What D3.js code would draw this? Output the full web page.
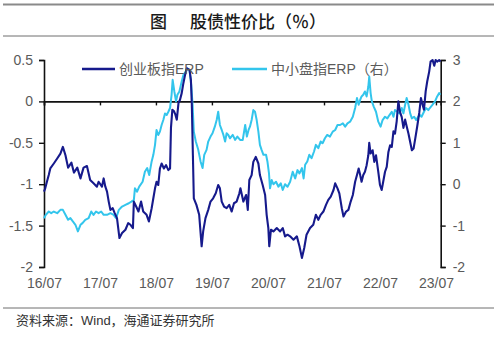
<!DOCTYPE html>
<html>
<head>
<meta charset="utf-8">
<script src="https://cdn.jsdelivr.net/npm/d3@7"></script>
<style>
  html, body { margin: 0; padding: 0; background: #fff; }
  svg { display: block; }
  text { font-family: "Liberation Sans", Arial, "Noto Sans CJK SC", sans-serif; }
</style>
</head>
<body>
<svg id="chart" width="500" height="337"></svg>
<script>
// 创业板指 ERP (left axis, %)
const cybDates = [
  "2016-07-01","2016-07-09","2016-07-20","2016-08-01","2016-08-11","2016-09-03","2016-09-25","2016-10-16","2016-11-01","2016-11-18","2016-12-05","2016-12-27",
  "2017-01-12","2017-02-03","2017-02-24","2017-03-16","2017-04-07","2017-04-28","2017-05-20","2017-06-11","2017-06-22","2017-07-14","2017-07-25","2017-08-05","2017-08-16","2017-08-27","2017-09-07","2017-09-22","2017-10-05","2017-10-20","2017-11-05","2017-11-22","2017-12-14",
  "2018-01-01","2018-01-16","2018-02-01","2018-02-07","2018-02-22","2018-03-09","2018-03-26","2018-04-09","2018-05-01","2018-05-16","2018-06-03","2018-06-14","2018-06-25","2018-07-05","2018-07-16","2018-07-27","2018-08-07","2018-08-22","2018-09-05","2018-09-20","2018-10-01","2018-10-07","2018-10-16","2018-10-27","2018-11-05","2018-11-14","2018-11-25","2018-12-05","2018-12-16","2018-12-27",
  "2019-01-07","2019-01-18","2019-02-05","2019-02-14","2019-02-20","2019-02-27","2019-03-05","2019-03-22","2019-04-09","2019-04-25","2019-05-05","2019-05-20","2019-06-07","2019-06-22","2019-07-09","2019-07-26","2019-08-11","2019-08-22","2019-09-03","2019-09-18","2019-10-05","2019-10-22","2019-11-07","2019-11-22","2019-12-09","2019-12-27",
  "2020-01-03","2020-01-22","2020-02-09","2020-02-20","2020-03-01","2020-03-16","2020-03-27","2020-04-12","2020-04-29","2020-05-09","2020-05-27","2020-06-12","2020-06-22","2020-07-03","2020-07-09","2020-07-20","2020-08-05","2020-08-27","2020-09-18","2020-10-05","2020-10-20","2020-11-05","2020-11-22","2020-12-14",
  "2021-01-05","2021-01-22","2021-02-07","2021-02-22","2021-03-09","2021-04-01","2021-04-22","2021-05-09","2021-05-25","2021-06-09","2021-06-27","2021-07-14","2021-07-29","2021-08-14","2021-09-01","2021-09-12","2021-09-27","2021-10-09","2021-10-25","2021-11-05","2021-11-22","2021-12-07","2021-12-22",
  "2022-01-05","2022-01-20","2022-02-01","2022-02-12","2022-02-22","2022-03-03","2022-03-14","2022-03-25","2022-04-05","2022-04-16","2022-04-22","2022-05-01","2022-05-14","2022-05-25","2022-06-05","2022-06-20","2022-07-01","2022-07-12","2022-07-22","2022-08-03","2022-08-14","2022-08-25","2022-09-05","2022-09-16","2022-09-27","2022-10-07","2022-10-18","2022-10-29","2022-11-09","2022-11-20","2022-12-01","2022-12-12","2022-12-22",
  "2023-01-03","2023-01-14","2023-01-25","2023-02-05","2023-02-16","2023-03-01","2023-03-14","2023-03-25","2023-04-05","2023-04-14","2023-04-25","2023-05-05","2023-05-18","2023-05-27","2023-06-09","2023-06-20","2023-06-29","2023-07-09","2023-07-22","2023-07-30"
];
const cybValues = [
  -1.09,-1.05,-0.97,-0.89,-0.81,-0.75,-0.69,-0.63,-0.55,-0.65,-0.80,-0.74,
  -0.86,-0.80,-0.93,-0.80,-0.78,-0.95,-0.99,-1.03,-0.97,-1.03,-0.93,-1.03,-1.09,-1.21,-1.31,-1.29,-1.35,-1.41,-1.65,-1.59,-1.55,
  -1.47,-1.49,-1.53,-1.21,-1.27,-1.33,-1.21,-1.33,-1.37,-1.45,-1.29,-1.17,-1.05,-0.97,-1.01,-0.81,-0.75,-0.81,-0.77,-0.83,-0.81,-0.32,-0.10,-0.12,-0.16,-0.22,-0.02,0.02,0.10,0.22,
  0.32,0.40,0.38,0.26,-0.04,-0.65,-1.17,-1.25,-1.37,-1.75,-1.57,-1.41,-1.31,-1.21,-1.17,-1.11,-1.01,-1.05,-1.21,-1.27,-1.29,-1.25,-1.33,-1.23,-1.21,-1.11,
  -1.05,-1.21,-1.13,-1.31,-0.95,-0.89,-0.73,-0.67,-0.75,-0.89,-1.01,-1.13,-1.37,-1.53,-1.75,-1.55,-1.57,-1.53,-1.57,-1.53,-1.63,-1.61,-1.63,-1.67,
  -1.63,-1.75,-1.89,-1.77,-1.61,-1.53,-1.49,-1.37,-1.43,-1.37,-1.33,-1.25,-1.19,-1.15,-1.07,-0.99,-1.05,-1.11,-1.29,-1.39,-1.33,-1.31,-1.21,
  -1.13,-0.97,-0.89,-0.81,-0.89,-0.97,-0.89,-0.85,-0.77,-0.65,-0.50,-0.63,-0.59,-0.73,-0.65,-0.85,-1.01,-1.07,-0.97,-0.85,-0.79,-0.61,-0.53,-0.55,-0.36,-0.39,-0.24,0.00,-0.13,-0.19,-0.32,-0.22,-0.30,
  -0.39,-0.49,-0.59,-0.57,-0.45,-0.30,-0.14,0.04,-0.04,-0.10,0.12,0.24,0.36,0.48,0.50,0.43,0.50,0.48,0.50,0.48
];

// 中小盘指 ERP (right axis, %)
const smeDates = [
  "2016-07-01","2016-07-13","2016-08-01","2016-08-17","2016-09-03","2016-09-25","2016-10-16","2016-11-01","2016-11-18","2016-12-05","2016-12-20",
  "2017-01-05","2017-01-22","2017-02-07","2017-02-24","2017-03-09","2017-03-27","2017-04-18","2017-05-05","2017-05-20","2017-06-05","2017-06-22","2017-07-09","2017-07-25","2017-08-16","2017-09-07","2017-09-28","2017-10-14","2017-11-01","2017-11-22","2017-12-14",
  "2018-01-05","2018-01-22","2018-02-07","2018-02-14","2018-02-28","2018-03-14","2018-04-05","2018-04-20","2018-05-05","2018-05-18","2018-06-03","2018-06-14","2018-06-25","2018-07-05","2018-07-16","2018-07-27","2018-08-07","2018-08-18","2018-08-29","2018-09-09","2018-09-20","2018-10-01","2018-10-11","2018-10-18","2018-10-29","2018-11-09","2018-11-18","2018-12-01","2018-12-16","2018-12-27",
  "2019-01-12","2019-01-22","2019-02-05","2019-02-16","2019-02-25","2019-03-05","2019-03-18","2019-04-03","2019-04-18","2019-05-01","2019-05-12","2019-05-27","2019-06-07","2019-06-22","2019-07-05","2019-07-20","2019-08-01","2019-08-11","2019-08-22","2019-09-03","2019-09-14","2019-09-25","2019-10-05","2019-10-16","2019-10-27","2019-11-14","2019-11-29","2019-12-14",
  "2020-01-01","2020-01-18","2020-02-03","2020-02-14","2020-02-25","2020-03-05","2020-03-16","2020-03-27","2020-04-07","2020-04-18","2020-04-29","2020-05-09","2020-05-20","2020-06-01","2020-06-18","2020-06-27","2020-07-07","2020-07-14","2020-07-25","2020-08-05","2020-08-22","2020-09-07","2020-09-22","2020-10-05","2020-10-20","2020-11-05","2020-11-22","2020-12-09","2020-12-25",
  "2021-01-09","2021-01-22","2021-02-07","2021-02-18","2021-02-28","2021-03-14","2021-03-27","2021-04-11","2021-04-27","2021-05-09","2021-05-25","2021-06-09","2021-06-22","2021-07-07","2021-07-22","2021-08-09","2021-08-27","2021-09-12","2021-09-27","2021-10-14","2021-11-01","2021-11-16","2021-12-01","2021-12-18",
  "2022-01-05","2022-01-20","2022-02-01","2022-02-12","2022-02-22","2022-03-03","2022-03-14","2022-03-25","2022-04-05","2022-04-16","2022-04-22","2022-05-01","2022-05-09","2022-05-22","2022-06-05","2022-06-20","2022-07-05","2022-07-18","2022-08-03","2022-08-18","2022-09-01","2022-09-16","2022-09-27","2022-10-07","2022-10-22","2022-11-05","2022-11-20","2022-12-01","2022-12-12","2022-12-22",
  "2023-01-03","2023-01-14","2023-01-25","2023-02-09","2023-02-22","2023-03-07","2023-03-18","2023-03-29","2023-04-14","2023-04-27","2023-05-12","2023-05-22","2023-06-09","2023-06-25","2023-07-09","2023-07-22","2023-07-30"
];
const smeValues = [
  -0.82,-0.74,-0.66,-0.70,-0.66,-0.70,-0.62,-0.62,-0.74,-0.86,-0.82,
  -0.90,-0.98,-1.14,-0.98,-0.94,-0.86,-0.82,-0.66,-0.74,-0.66,-0.70,-0.66,-0.74,-0.74,-0.70,-0.74,-0.82,-0.62,-0.54,-0.50,
  -0.46,-0.42,-0.38,-0.10,-0.18,-0.06,0.06,0.30,0.39,0.22,0.55,0.71,0.95,1.31,1.19,1.27,1.43,1.55,1.71,1.67,1.75,1.84,2.16,2.52,2.24,2.00,2.16,2.24,2.48,2.64,
  2.72,2.80,2.76,2.40,1.92,1.27,1.03,0.83,0.55,0.39,0.71,0.83,1.03,1.15,1.23,1.39,1.55,1.75,1.43,1.31,1.19,1.03,1.23,1.19,1.11,1.19,1.07,1.15,
  1.07,1.07,1.43,1.15,1.31,1.39,1.55,1.79,1.75,1.55,1.27,0.95,0.83,0.71,0.71,0.55,0.27,-0.10,0.10,0.00,0.06,-0.06,0.02,-0.14,0.00,-0.06,0.06,0.30,0.14,
  0.34,0.26,0.39,0.14,0.47,0.55,0.71,0.63,0.79,0.95,0.87,1.03,0.99,1.11,1.19,1.15,1.27,1.31,1.43,1.43,1.47,1.39,1.47,1.51,
  1.63,1.84,2.08,1.92,2.04,2.12,2.16,2.24,2.12,2.36,2.60,2.20,2.00,1.87,1.75,1.51,1.39,1.55,1.63,1.59,1.67,1.75,1.63,1.79,1.75,1.71,1.84,1.71,1.92,2.08,
  1.92,1.71,1.59,1.63,1.55,1.63,1.67,1.63,1.75,1.84,1.79,1.84,1.92,2.00,2.12,2.20,2.16
];

// Axis ticks
const leftTicks = [-2, -1.5, -1, -0.5, 0, 0.5];
const rightTicks = [-2, -1, 0, 1, 2, 3];
const yearTicks = ["2016-07-01","2017-07-01","2018-07-01","2019-07-01","2020-07-01","2021-07-01","2022-07-01","2023-07-01"];

const seriesNames = ["创业板指ERP", "中小盘指ERP（右）"];
const seriesColors = ["#161a8c", "#33c5ec"];

const parse = d3.timeParse("%Y-%m-%d");
const cyb = cybDates.map((d, i) => ({ date: parse(d), value: cybValues[i] }));
const sme = smeDates.map((d, i) => ({ date: parse(d), value: smeValues[i] }));

const svg = d3.select("#chart");
const plot = { left: 44, right: 440.7, top: 60, bottom: 267 };

const x = d3.scaleTime()
  .domain([parse("2016-07-01"), parse("2023-08-01")])
  .range([plot.left, plot.right]);
const yL = d3.scaleLinear().domain([-2, 0.5]).range([plot.bottom, plot.top]);
const yR = d3.scaleLinear().domain([-2, 3]).range([plot.bottom, plot.top]);

// Title block
svg.append("line").attr("x1", 3).attr("x2", 494).attr("y1", 4.5).attr("y2", 4.5)
  .attr("stroke", "#8a8a8a").attr("stroke-width", 2);
svg.append("line").attr("x1", 3).attr("x2", 494).attr("y1", 36).attr("y2", 36)
  .attr("stroke", "#6e6e6e").attr("stroke-width", 1);
svg.append("text").attr("x", 150).attr("y", 28)
  .style("font-family", "'Noto Sans CJK SC', sans-serif").style("font-size", "17px").style("font-weight", 500)
  .attr("fill", "#1a1a1a").text("图");
svg.append("text").attr("x", 190).attr("y", 28)
  .style("font-family", "'Noto Sans CJK SC', sans-serif").style("font-size", "17px").style("font-weight", 500)
  .attr("fill", "#1a1a1a").text("股债性价比（％）");

// Axes
const axisColor = "#111";
const labelColor = "#5a5a5a";

const gL = svg.append("g").attr("transform", `translate(${plot.left},0)`)
  .call(d3.axisLeft(yL).tickValues(leftTicks).tickSize(5).tickPadding(6).tickFormat(d => String(d)));
const gR = svg.append("g").attr("transform", `translate(${plot.right},0)`)
  .call(d3.axisRight(yR).tickValues(rightTicks).tickSize(5).tickPadding(7).tickFormat(d => String(d)));

// zero line with year ticks
const gZ = svg.append("g").attr("transform", `translate(0,${yL(0)})`)
  .call(d3.axisBottom(x).tickValues(yearTicks.map(parse)).tickSize(4).tickFormat(""));
// year labels along the bottom
const gX = svg.append("g").attr("transform", `translate(0,${plot.bottom})`)
  .call(d3.axisBottom(x).tickValues(yearTicks.map(parse)).tickSize(0).tickPadding(11).tickFormat(d3.timeFormat("%y/%m")));
gX.select(".domain").remove();

[gL, gR, gZ].forEach(g => {
  g.select(".domain").attr("stroke", axisColor).attr("stroke-width", 1.6);
  g.selectAll(".tick line").attr("stroke", axisColor).attr("stroke-width", 1.4);
});
[gL, gR, gX].forEach(g => {
  g.selectAll(".tick text").attr("fill", labelColor)
    .style("font-family", "'Liberation Sans', Arial, sans-serif").style("font-size", "14px");
});

// Series
const lineL = d3.line().x(d => x(d.date)).y(d => yL(d.value));
const lineR = d3.line().x(d => x(d.date)).y(d => yR(d.value));

svg.append("path").datum(sme).attr("d", lineR)
  .attr("fill", "none").attr("stroke", seriesColors[1]).attr("stroke-width", 2).attr("stroke-linejoin", "round");
svg.append("path").datum(cyb).attr("d", lineL)
  .attr("fill", "none").attr("stroke", seriesColors[0]).attr("stroke-width", 2.1).attr("stroke-linejoin", "round");

// Legend
const legendItems = [
  { x1: 82, x2: 115, tx: 119 },
  { x1: 232, x2: 267, tx: 271 }
];
legendItems.forEach((it, i) => {
  svg.append("line").attr("x1", it.x1).attr("x2", it.x2).attr("y1", 69).attr("y2", 69)
    .attr("stroke", seriesColors[i]).attr("stroke-width", 2.5);
  svg.append("text").attr("x", it.tx).attr("y", 74)
    .attr("fill", labelColor).style("font-size", "14px").text(seriesNames[i]);
});

// Source note
svg.append("line").attr("x1", 3).attr("x2", 494).attr("y1", 308).attr("y2", 308)
  .attr("stroke", "#6e6e6e").attr("stroke-width", 1);
svg.append("text").attr("x", 16).attr("y", 325)
  .attr("fill", "#333").style("font-size", "13px").text("资料来源：Wind，海通证券研究所");
</script>
</body>
</html>
